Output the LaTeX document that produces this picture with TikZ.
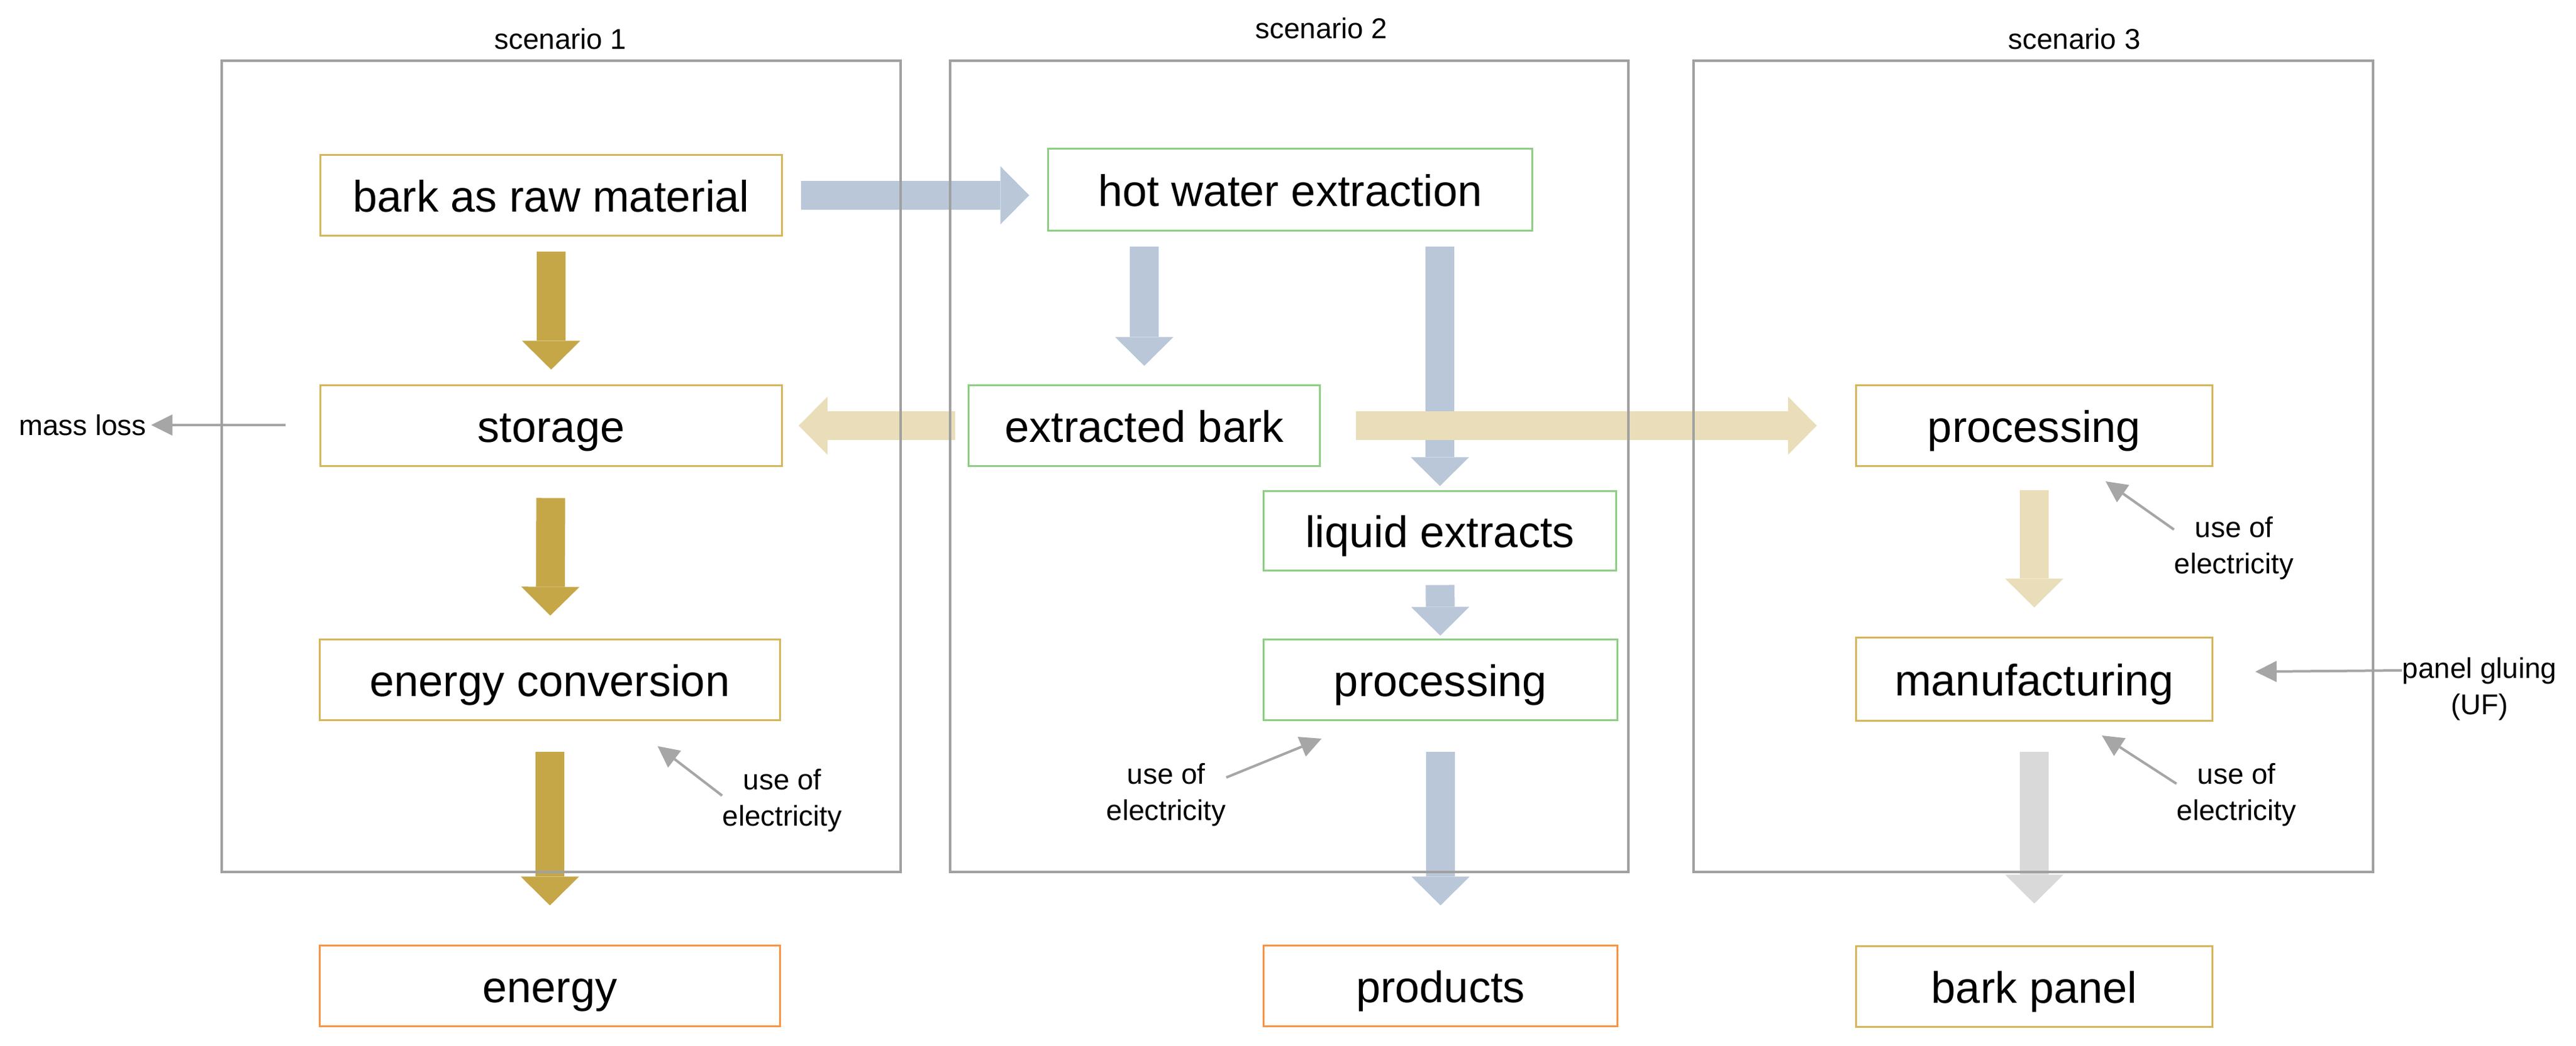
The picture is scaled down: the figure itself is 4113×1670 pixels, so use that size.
\documentclass[tikz,border=0pt]{standalone}
\usepackage{fontspec}
\setmainfont{Liberation Sans}
\usetikzlibrary{arrows.meta, positioning}
\definecolor{goldline}{RGB}{212,182,92}
\definecolor{greenline}{RGB}{142,206,132}
\definecolor{orangeline}{RGB}{247,150,72}
\definecolor{goldfill}{RGB}{197,167,72}
\definecolor{tanfill}{RGB}{233,222,185}
\definecolor{bluefill}{RGB}{185,199,217}
\definecolor{greyfill}{RGB}{217,217,217}
\definecolor{thingrey}{RGB}{166,166,166}
\definecolor{framegrey}{RGB}{160,160,160}
\tikzstyle{stage} = [draw, line width=0.03cm, rectangle, minimum height=1.28cm, text height=0.53cm, text depth=0cm, font=\fontsize{20pt}{24pt}\selectfont]
\tikzstyle{goldstage} = [stage, draw=goldline]
\tikzstyle{greenstage} = [stage, draw=greenline]
\tikzstyle{orangestage} = [stage, draw=orangeline]
\tikzstyle{bigarrow} = [line width=0.46cm, -{Triangle[width=0.93cm, length=0.46cm, line width=0pt]}]
\tikzstyle{thinarrow} = [draw=thingrey, line width=0.04cm, -{Triangle[width=0.34cm, length=0.34cm, line width=0pt]}]
\tikzstyle{note} = [inner sep=0pt, align=center, font=\fontsize{13pt}{16.5pt}\selectfont]
\tikzstyle{scenframe} = [draw=framegrey, line width=0.045cm]

\begin{document}
\begin{tikzpicture}[x=0.01cm, y=-0.01cm]
	\useasboundingbox (0,0) rectangle (4113,1670);
	% scenario 1
	\node[goldstage, minimum width=7.37cm] (raw) at (880,312) {bark as raw material};
	\node[goldstage, minimum width=7.37cm] (storage) at (880,680) {storage};
	\node[goldstage, minimum width=7.35cm] (conversion) at (878,1086) {energy conversion};
	\node[orangestage, minimum width=7.35cm] (energy) at (878,1575) {energy};
	% scenario 2
	\node[greenstage, minimum width=7.72cm, minimum height=1.31cm] (extraction) at (2060,303) {hot water extraction};
	\node[greenstage, minimum width=5.6cm] (extracted) at (1827,680) {extracted bark};
	\node[greenstage, minimum width=5.62cm, minimum height=1.26cm] (liquid) at (2299,848) {liquid extracts};
	\node[greenstage, minimum width=5.64cm] (processingB) at (2300,1086) {processing};
	\node[orangestage, minimum width=5.64cm] (products) at (2300,1575) {products};
	% scenario 3
	\node[goldstage, minimum width=5.69cm] (processingC) at (3248,680) {processing};
	\node[goldstage, minimum width=5.69cm, minimum height=1.32cm] (manufacturing) at (3248,1085) {manufacturing};
	\node[goldstage, minimum width=5.69cm] (panel) at (3248,1576) {bark panel};
	% labels
	\node[note] (scenA) at (895,62) {scenario 1};
	\node[note] (scenB) at (2110,45) {scenario 2};
	\node[note] (scenC) at (3312,62) {scenario 3};
	\node[note, inner sep=2pt] (loss) at (132,679) {mass loss};
	\node[note] (elecA) at (1249,1279) {use of\\electricity};
	\node[note] (elecB) at (1862,1270) {use of\\electricity};
	\node[note] (elecC) at (3567,876) {use of\\electricity};
	\node[note] (elecD) at (3571,1270) {use of\\electricity};
	\node[note] (glue) at (3959,1101) {panel gluing\\(UF)};
	\coordinate (lossstart) at (456,679);
	\coordinate (elecAtip) at (1050,1192);
	\coordinate (elecBtip) at (2110,1180);
	\coordinate (elecCtip) at (3362,769);
	\coordinate (elecDtip) at (3356,1175);
	\coordinate (gluetip) at (3601,1073);
	% flows
	\draw[bigarrow, draw=bluefill, shorten <=0.29cm, shorten >=0.29cm] (raw.east) -- (extraction.west |- raw.east);
	\draw[bigarrow, draw=goldfill, shorten <=0.24cm, shorten >=0.24cm] (raw) -- (storage);
	\draw[bigarrow, draw=goldfill, shorten <=0.5cm, shorten >=0.37cm] (storage) -- (conversion);
	\draw[bigarrow, draw=goldfill, shorten <=0.49cm, shorten >=0.63cm] (conversion) -- (energy);
	\draw[bigarrow, draw=bluefill, shorten <=0.24cm, shorten >=0.3cm] (extracted.north |- extraction.south) -- (extracted.north);
	\draw[bigarrow, draw=bluefill, shorten <=0.24cm, shorten >=0.07cm] (liquid.north |- extraction.south) -- (liquid.north);
	\draw[bigarrow, draw=bluefill, shorten <=0.22cm, shorten >=0.05cm] (liquid) -- (processingB);
	\draw[bigarrow, draw=bluefill, shorten <=0.49cm, shorten >=0.63cm] (processingB) -- (products);
	\draw[bigarrow, draw=tanfill, shorten <=0.2cm, shorten >=0.25cm] (extracted) -- (storage);
	\draw[bigarrow, draw=tanfill, shorten <=0.56cm, shorten >=0.61cm] (extracted) -- (processingC);
	\draw[bigarrow, draw=tanfill, shorten <=0.37cm, shorten >=0.47cm] (processingC) -- (manufacturing);
	\draw[bigarrow, draw=greyfill, shorten <=0.48cm, shorten >=0.67cm] (manufacturing) -- (panel);
	% inputs and losses
	\draw[thinarrow] (lossstart) -- (loss);
	\draw[thinarrow] ([yshift=0.08cm]elecA.west) -- (elecAtip);
	\draw[thinarrow] ([yshift=0.28cm]elecB.east) -- (elecBtip);
	\draw[thinarrow] ([yshift=0.3cm]elecC.west) -- (elecCtip);
	\draw[thinarrow] ([yshift=0.18cm]elecD.west) -- (elecDtip);
	\draw[thinarrow] ([yshift=0.3cm]glue.west) -- (gluetip);
	% scenario frames
	\draw[scenframe] (354,97) rectangle (1438,1393);
	\draw[scenframe] (1517,97) rectangle (2600,1393);
	\draw[scenframe] (2704,97) rectangle (3789,1393);
\end{tikzpicture}
\end{document}
